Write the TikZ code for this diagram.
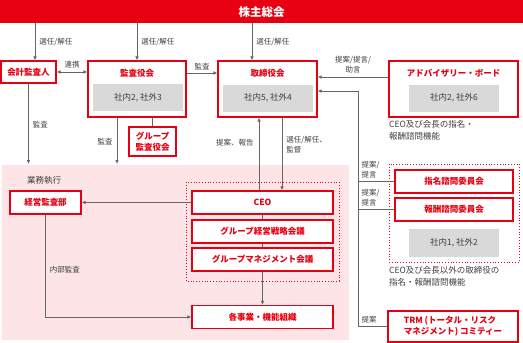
\documentclass[tikz,border=0pt]{standalone}
\usepackage{fontspec}
\setmainfont{Noto Sans CJK JP}
\usepackage{xcolor}
\usepackage{tikz}
\usetikzlibrary{positioning, arrows.meta}

\definecolor{jred}{HTML}{E60012}
\definecolor{jgray}{HTML}{D9D9D9}
\definecolor{jpink}{HTML}{FDE4E7}
\definecolor{linegray}{HTML}{666666}
\definecolor{txtgray}{HTML}{3F3F3F}

\tikzset{
  orgbox/.style={draw=jred, line width=1.1pt, fill=white, text=jred, inner sep=0pt, align=center,
    font=\fontsize{8.5}{10.5}\selectfont\bfseries},
  orgtitle/.style={text=jred, inner sep=0pt, font=\fontsize{8.5}{10.5}\selectfont\bfseries},
  seatbox/.style={fill=jgray, text=txtgray, inner sep=0pt, minimum width=90pt, minimum height=27pt,
    font=\fontsize{8.5}{10}\selectfont},
  lbl/.style={text=txtgray, inner sep=0pt, align=left, font=\fontsize{7.5}{10.5}\selectfont},
  caption/.style={text=txtgray, inner sep=0pt, align=left, font=\fontsize{8.5}{12}\selectfont},
  link/.style={draw=linegray, line width=0.9pt},
  flow/.style={link, -{Latex[length=4pt,width=3.6pt]}},
  groupline/.style={draw=jred, line width=0.8pt, dotted}
}

\begin{document}
\begin{tikzpicture}[x=1pt, y=-1pt]
  \useasboundingbox (0,0) rectangle (523,343);

  % execution area
  \node (exec) [fill=jpink, inner sep=0pt, minimum width=347pt, minimum height=175pt, anchor=north west] at (2,165) {};
  \node (execT) [lbl, anchor=west, font=\fontsize{8.5}{10}\selectfont] at (27,180) {業務執行};

  % shareholders
  \node (agm) [fill=jred, text=white, inner sep=0pt, minimum width=523pt, minimum height=23pt,
    anchor=north west, font=\fontsize{11.5}{13}\selectfont\bfseries] at (0,0) {株主総会};

  % board level
  \node (auditor) [orgbox, minimum width=55pt, minimum height=22pt] at (28.5,72) {会計監査人};

  \node (kab) [orgbox, minimum width=98pt, minimum height=56pt] at (137,89) {};
  \node (kabT) [orgtitle] at (137,73) {監査役会};
  \node (kabN) [seatbox] at (138,97.5) {社内2, 社外3};

  \node (bod) [orgbox, minimum width=99pt, minimum height=56pt] at (267.5,89) {};
  \node (bodT) [orgtitle] at (267.5,73) {取締役会};
  \node (bodN) [seatbox] at (268,98) {社内5, 社外4};

  \node (adv) [orgbox, minimum width=129pt, minimum height=56pt] at (453.5,89) {};
  \node (advT) [orgtitle] at (453.5,73) {アドバイザリー・ボード};
  \node (advN) [seatbox] at (454,98) {社内2, 社外6};
  \node (advC) [caption, anchor=north west] at (389,120) {CEO及び会長の指名・\\報酬諮問機能};

  \node (gkab) [orgbox, minimum width=47pt, minimum height=29pt, font=\fontsize{8.5}{11}\selectfont\bfseries] at (152.5,141.5) {グループ\\監査役会};

  % execution
  \node (iad) [orgbox, minimum width=71pt, minimum height=23pt] at (45.5,202.5) {経営監査部};

  \draw[groupline] (186,182) rectangle (339,281);
  \node (ceo) [orgbox, minimum width=141pt, minimum height=23pt] at (262.5,202.5) {CEO};
  \node (gsm) [orgbox, minimum width=141pt, minimum height=23pt] at (262.5,231.5) {グループ経営戦略会議};
  \node (gmm) [orgbox, minimum width=141pt, minimum height=23pt] at (262.5,259.5) {グループマネジメント会議};
  \node (biz) [orgbox, minimum width=141pt, minimum height=23pt] at (262.5,317) {各事業・機能組織};

  % committees
  \draw[groupline] (389,164) rectangle (519,262);
  \node (nom) [orgbox, minimum width=118pt, minimum height=23pt] at (454,181.5) {指名諮問委員会};
  \node (rem) [orgbox, minimum width=118pt, minimum height=23pt] at (454,209.5) {報酬諮問委員会};
  \node (comN) [seatbox, minimum height=28pt] at (454,243) {社内1, 社外2};
  \node (comC) [caption, anchor=north west] at (389,266) {CEO及び会長以外の取締役の\\指名・報酬諮問機能};

  \node (trm) [orgbox, minimum width=130pt, minimum height=31pt, align=left,
    font=\fontsize{8.5}{11}\selectfont\bfseries] at (453,326.5) {TRM (トータル・リスク\\マネジメント) コミティー};

  % helper points
  \coordinate (auditorIn) at ([xshift=6.5pt]auditor.north);
  \coordinate (bodIn) at ([xshift=-15.5pt]bod.north);
  \coordinate (kabOut) at ([xshift=-20pt]kab.south);
  \coordinate (advOut) at ([yshift=12pt]adv.west);
  \coordinate (busIn) at ([yshift=-2pt]bod.east);
  \coordinate (bus) at (358,0);
  \coordinate (upX) at (259,0);
  \coordinate (dnX) at (282,0);
  \coordinate (busLow) at (trm.west -| bus);

  % appointments
  \draw[flow] (auditorIn |- agm.south) -- (auditorIn) node[lbl, midway, right=4pt] {選任/解任};
  \draw[flow] (kab.north |- agm.south) -- (kab.north) node[lbl, midway, right=4pt] {選任/解任};
  \draw[flow] (bodIn |- agm.south) -- (bodIn) node[lbl, midway, right=4pt] {選任/解任};

  \draw[link, {Latex[length=4pt,width=3.6pt]}-{Latex[length=4pt,width=3.6pt]}] (auditor.east) -- (kab.west |- auditor.east)
    node[lbl, midway, above=3pt] {連携};
  \draw[flow] (kab.east |- kabT) -- (bod.west |- kabT) node[lbl, midway, above=3pt] {監査};
  \draw[flow] (advOut) -- (advOut -| bod.east) node[lbl, midway, above=3pt, align=center] {提案/提言/\\助言};

  % audits
  \draw[flow, shorten >=1pt] (auditor.south) -- (auditor.south |- exec.north) node[lbl, midway, right=4pt] {監査};
  \draw[flow, shorten >=1pt] (kabOut) -- (kabOut |- exec.north) node[lbl, midway, left=4pt] {監査};
  \draw[link] (kab.south -| gkab) -- (gkab.north);

  % board and CEO
  \draw[flow] (ceo.north -| upX) -- (bod.south -| upX) node[lbl, pos=0.65, left=5pt] {提案、報告};
  \draw[flow] (bod.south -| dnX) -- (ceo.north -| dnX) node[lbl, pos=0.37, right=4pt] {選任/解任、\\監督};
  \draw[flow] (ceo.west) -- (iad.east);
  \draw[flow] (iad.south) |- (biz.west) node[lbl, pos=0.27, right=4pt] {内部監査};
  \draw[link] (ceo) -- (gsm);
  \draw[link] (gsm) -- (gmm);
  \draw[flow] (gmm) -- (biz);

  % proposals bus
  \draw[flow] (trm.west) -- (busLow) -- (bus |- busIn) -- (busIn);
  \draw[link] (bus |- nom.west) -- (nom.west);
  \draw[link] (bus |- rem.west) -- (rem.west);
  \node (nomL) [lbl, anchor=south west] at ([xshift=3.5pt, yshift=3pt]bus |- nom.west) {提案/\\提言};
  \node (remL) [lbl, anchor=south west] at ([xshift=3.5pt, yshift=3pt]bus |- rem.west) {提案/\\提言};
  \node (trmL) [lbl, anchor=south west] at ([xshift=3.5pt, yshift=3pt]busLow) {提案};
\end{tikzpicture}
\end{document}
